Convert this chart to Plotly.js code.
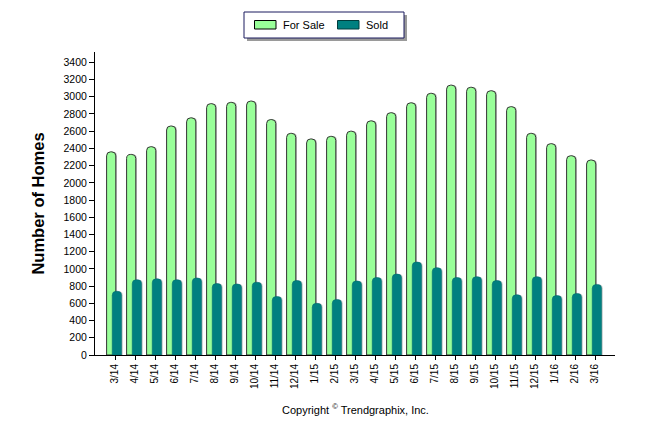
<!DOCTYPE html>
<html>
<head>
<meta charset="utf-8">
<script src="https://cdn.plot.ly/plotly-3.0.1.min.js"></script>
<style>html,body{margin:0;padding:0;background:#fff;}#chart{width:646px;height:434px;}</style>
</head>
<body>
<div id="chart"></div>
<script>
var months = ["3/14","4/14","5/14","6/14","7/14","8/14","9/14","10/14","11/14","12/14","1/15","2/15","3/15","4/15","5/15","6/15","7/15","8/15","9/15","10/15","11/15","12/15","1/16","2/16","3/16"];
var forSale = [2360,2330,2420,2660,2755,2920,2935,2950,2735,2575,2510,2540,2600,2720,2815,2930,3040,3135,3110,3070,2885,2575,2455,2315,2265];
var sold = [740,875,885,875,895,830,825,845,680,865,600,645,860,900,940,1080,1015,900,910,865,700,910,690,715,820];
var yTicks = [0,200,400,600,800,1000,1200,1400,1600,1800,2000,2200,2400,2600,2800,3000,3200,3400];
var seriesNames = ["For Sale","Sold"];
var seriesColors = ["#99ff99","#008080"];

var font = "Liberation Sans, Arial, sans-serif";
// plot area in pixels (for placing the hand-drawn legend)
var L = 95, R = 31, T = 52, B = 79, W = 646, H = 434;
var pw = W - L - R, ph = H - T - B;
function px(x){ return (x - L) / pw; }
function py(y){ return (H - B - y) / ph; }

var traces = [
  {type:"bar", name:"shadow1", x:months, y:forSale, offset:-0.36, width:0.46, showlegend:false,
   marker:{color:"rgba(0,0,0,0.22)", line:{width:0}, cornerradius:4}, hoverinfo:"skip"},
  {type:"bar", name:seriesNames[0], x:months, y:forSale, offset:-0.42, width:0.46, showlegend:false,
   marker:{color:seriesColors[0], line:{color:"#333333", width:1}, cornerradius:4}, hoverinfo:"x+y"},
  {type:"bar", name:"shadow2", x:months, y:sold, offset:-0.08, width:0.47, showlegend:false,
   marker:{color:"rgba(0,0,0,0.18)", line:{width:0}, cornerradius:4}, hoverinfo:"skip"},
  {type:"bar", name:seriesNames[1], x:months, y:sold, offset:-0.14, width:0.47, showlegend:false,
   marker:{color:seriesColors[1], line:{color:"#006a6a", width:0.5}, cornerradius:4}, hoverinfo:"x+y"}
];

var shapes = [
  // legend shadow
  {type:"rect", xref:"paper", yref:"paper", x0:px(247), x1:px(407), y0:py(15), y1:py(41), fillcolor:"#9a9a9a", line:{width:0}, layer:"above"},
  // legend box
  {type:"rect", xref:"paper", yref:"paper", x0:px(244), x1:px(404), y0:py(12), y1:py(38), fillcolor:"#ffffff", line:{color:"#1a1a5e", width:1}, layer:"above"},
  // swatches
  {type:"rect", xref:"paper", yref:"paper", x0:px(254.5), x1:px(276), y0:py(20.5), y1:py(29), fillcolor:seriesColors[0], line:{color:"#000", width:1}, layer:"above"},
  {type:"rect", xref:"paper", yref:"paper", x0:px(337.5), x1:px(359), y0:py(20.5), y1:py(29), fillcolor:seriesColors[1], line:{color:"#003c3c", width:1}, layer:"above"}
];

var annotations = [
  {xref:"paper", yref:"paper", x:px(281), y:py(25), xanchor:"left", yanchor:"middle", text:seriesNames[0], showarrow:false, font:{family:font, size:11, color:"#000"}},
  {xref:"paper", yref:"paper", x:px(364), y:py(25), xanchor:"left", yanchor:"middle", text:seriesNames[1], showarrow:false, font:{family:font, size:11, color:"#000"}},
  {xref:"paper", yref:"paper", x:px(355), y:py(409), xanchor:"center", yanchor:"middle",
   text:"Copyright <sup>©</sup> Trendgraphix, Inc.", showarrow:false, font:{family:font, size:11, color:"#000"}}
];

var layout = {
  width:W, height:H,
  margin:{l:L, r:R, t:T, b:B},
  paper_bgcolor:"#fff", plot_bgcolor:"#fff",
  barmode:"overlay",
  font:{family:font, size:10, color:"#000"},
  showlegend:false,
  xaxis:{type:"category", range:[-1,25], showline:true, linecolor:"#000", linewidth:1,
         ticks:"outside", ticklen:4, tickcolor:"#000", tickangle:-90, tickfont:{family:font, size:10},
         showgrid:false, zeroline:false, fixedrange:true},
  yaxis:{range:[0,3520], showline:true, linecolor:"#000", linewidth:1, ticks:"outside", ticklen:5, tickcolor:"#000",
         tickmode:"array", tickvals:yTicks, ticktext:yTicks.map(String), tickfont:{family:font, size:10.5},
         showgrid:false, zeroline:false, fixedrange:true,
         title:{text:"<b>Number of Homes</b>", font:{family:font, size:16.5}, standoff:14}},
  shapes:shapes,
  annotations:annotations
};
Plotly.newPlot("chart", traces, layout, {displayModeBar:false, staticPlot:true});
</script>
</body>
</html>
